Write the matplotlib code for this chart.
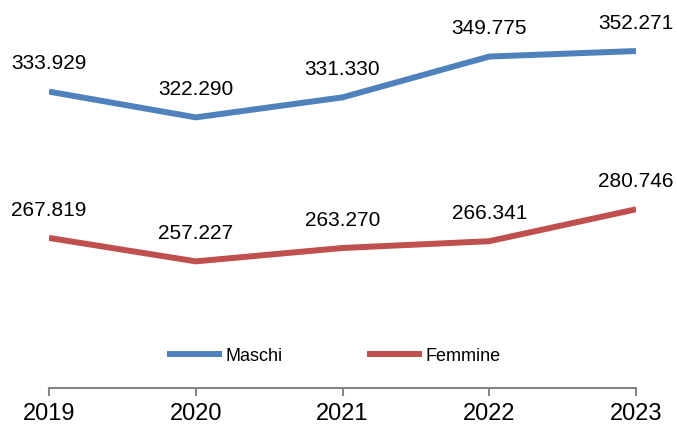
import matplotlib.pyplot as plt
import numpy as np

plt.rcParams['font.family'] = ['Liberation Sans', 'DejaVu Sans']

anni = ['2019', '2020', '2021', '2022', '2023']
maschi = [333929, 322290, 331330, 349775, 352271]
femmine = [267819, 257227, 263270, 266341, 280746]

blu = '#4F81BD'
rosso = '#C0504D'
grigio = '#868686'


def fmt(v):
    return '{:,}'.format(v).replace(',', '.')


fig = plt.figure(figsize=(6.77, 4.25), dpi=100)
ax = fig.add_axes([49 / 677, 37 / 425, (636 - 49) / 677, 388 / 425])
ax.patch.set_alpha(0)

x = np.arange(len(anni))
ax.plot(x, maschi, color=blu, lw=4.3, label='Maschi', solid_capstyle='butt')
ax.plot(x, femmine, color=rosso, lw=4.3, label='Femmine', solid_capstyle='butt')

for serie in (maschi, femmine):
    for xi, v in zip(x, serie):
        ax.annotate(fmt(v), (xi, v), xytext=(0, 20), textcoords='offset points',
                    ha='center', va='center', fontsize=15, color='black',
                    annotation_clip=False)

ax.set_xlim(0, 4)
ax.set_ylim(200000, 375330)
ax.set_xticks(x)
ax.set_xticklabels(anni, fontsize=17)
ax.set_yticks([])
for s in ('top', 'right', 'left'):
    ax.spines[s].set_visible(False)
ax.spines['bottom'].set_color(grigio)
ax.spines['bottom'].set_linewidth(1.5)
ax.tick_params(axis='x', direction='out', length=6, width=1.5, color=grigio, pad=4.5)

leg = fig.legend(loc='center', bbox_to_anchor=(0.493, 0.162), ncol=2, frameon=False,
                 fontsize=13, handlelength=3.05, handletextpad=0.2, columnspacing=4.7)

fig.savefig('out.png', dpi=100)
